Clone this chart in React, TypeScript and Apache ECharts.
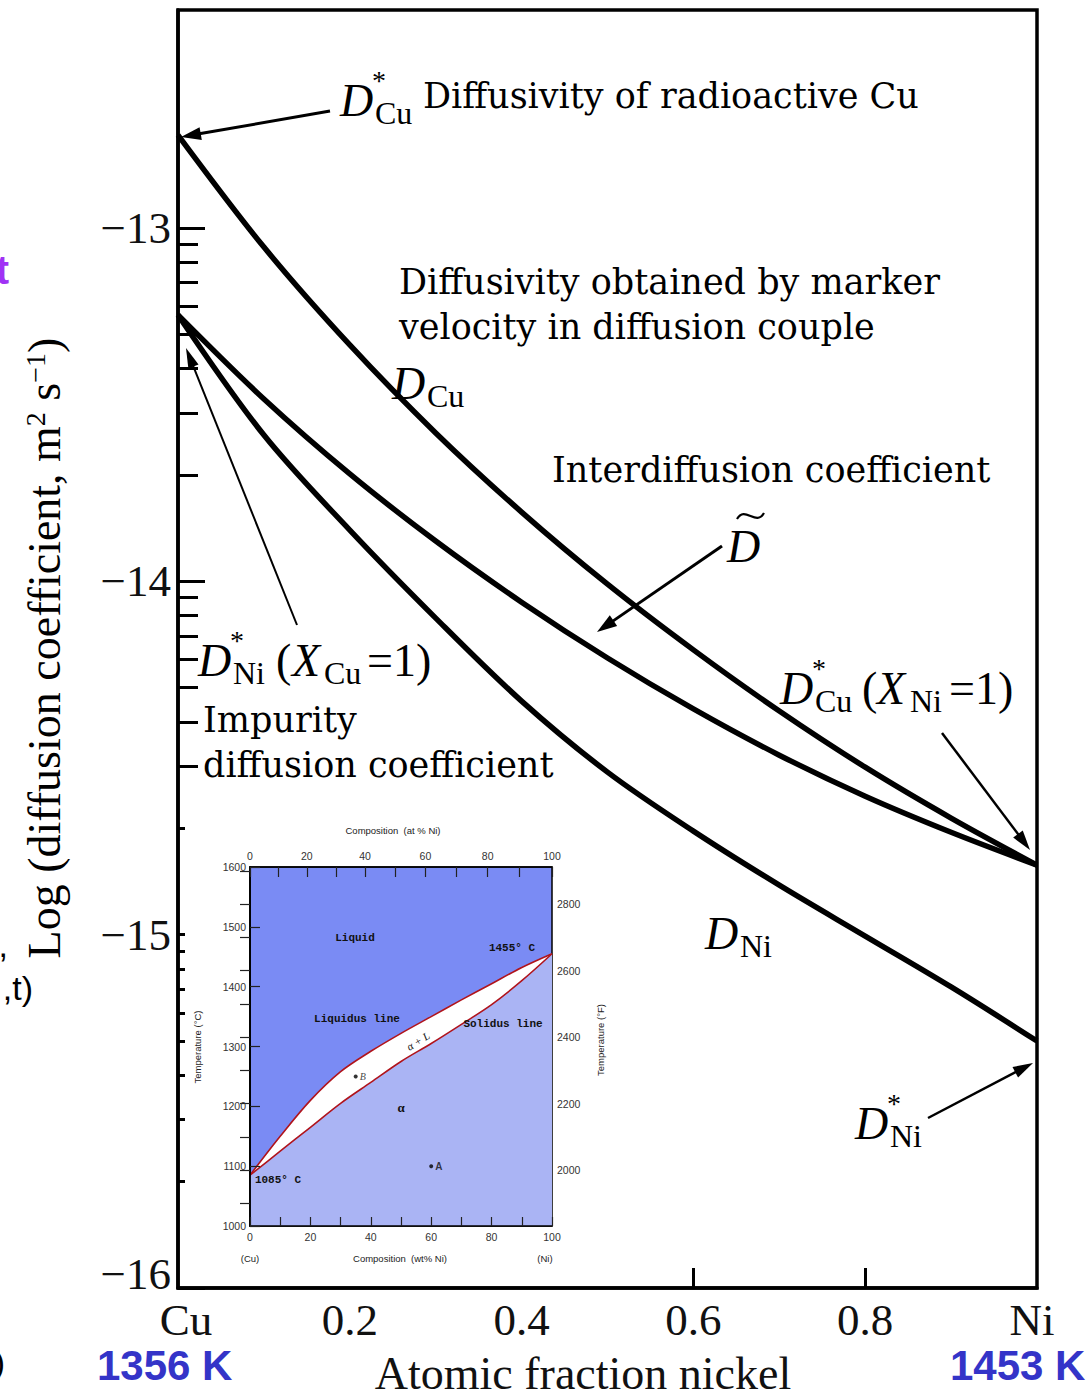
import React, { useEffect, useRef } from "react";
import * as echarts from "echarts";

// ---------- Main chart data: log10 D (m^2/s) vs atomic fraction Ni ----------
const xFraction = [0, 0.1, 0.2, 0.3, 0.4, 0.5, 0.6, 0.7, 0.8, 0.9, 1.0];
const logDCu = [-12.737, -13.054, -13.331, -13.58, -13.804, -14.008, -14.194, -14.367, -14.526, -14.67, -14.803];
const logDInter = [-13.246, -13.484, -13.696, -13.886, -14.059, -14.217, -14.361, -14.492, -14.608, -14.71, -14.803];
const logDNi = [-13.246, -13.586, -13.855, -14.104, -14.339, -14.54, -14.707, -14.86, -15.004, -15.148, -15.301];

const yMajorTicks = [-16, -15, -14, -13];
const yMinorMantissas = [2, 3, 4, 5, 6, 7, 8, 9];
const xLabelValues = [0, 0.2, 0.4, 0.6, 0.8, 1];
const xTickLabels = ["Cu", "0.2", "0.4", "0.6", "0.8", "Ni"];
const xVisibleTicks = [0.6, 0.8]; // 0.2 and 0.4 are hidden behind the inset

// ---------- Inset: Cu-Ni phase diagram ----------
const wtPctNi = [0, 10, 20, 30, 40, 50, 60, 70, 80, 90, 100];
const liquidusC = [1085, 1150, 1210, 1258, 1292, 1322, 1350, 1378, 1405, 1432, 1455];
const solidusC = [1085, 1125, 1165, 1205, 1240, 1275, 1305, 1337, 1370, 1410, 1455];
const pointB = [35, 1250];
const pointA = [60, 1100];
const insetBottomTicks = [0, 10, 20, 30, 40, 50, 60, 70, 80, 90, 100];
const insetBottomLabels = [0, 20, 40, 60, 80, 100];
const atPctLabels = ["0", "20", "40", "60", "80", "100"];
const atPctPositions = [0, 18.8, 38.1, 58.1, 78.7, 100];
const atPctMinorPositions = [9.3, 28.4, 48.0, 68.3, 89.3];
const tempCTicks = [1000, 1100, 1200, 1300, 1400, 1500, 1600];
const tempFTicks = [1900, 2000, 2100, 2200, 2300, 2400, 2500, 2600, 2700, 2800, 2900];
const tempFLabels = [2000, 2200, 2400, 2600, 2800];

const SERIF = "'Liberation Serif', 'Times New Roman', serif";
const SLAB = "'DejaVu Serif', serif";
const SANS = "'Liberation Sans', Arial, sans-serif";
const MONO = "'Liberation Mono', 'DejaVu Sans Mono', monospace";

function arrow(x1: number, y1: number, x2: number, y2: number, w: number, hl: number, hw: number) {
  const dx = x2 - x1, dy = y2 - y1;
  const L = Math.hypot(dx, dy);
  const ux = dx / L, uy = dy / L;
  const bx = x2 - ux * hl, by = y2 - uy * hl;
  const px = -uy, py = ux;
  return [
    { type: "line", z: 20, shape: { x1, y1, x2: bx + ux * 3, y2: by + uy * 3 }, style: { stroke: "#000", lineWidth: w } },
    {
      type: "polygon", z: 20,
      shape: { points: [[x2, y2], [bx + (px * hw) / 2, by + (py * hw) / 2], [bx - (px * hw) / 2, by - (py * hw) / 2]] },
      style: { fill: "#000" },
    },
  ];
}

function txt(text: string, x: number, y: number, size: number, family: string, extra: any = {}, el: any = {}) {
  return {
    type: "text", x, y, z: 20, ...el,
    style: { text, fontSize: size, fontFamily: family, fill: "#000", align: "left", verticalAlign: "middle", ...extra },
  };
}

// Italic D with optional star and subscript
function dLabel(x: number, y: number, sub: string, star: boolean) {
  const els: any[] = [txt("D", x, y, 46, SERIF, { fontStyle: "italic" })];
  if (star) els.push(txt("*", x + 32, y - 20, 28, SERIF));
  els.push(txt(sub, x + 35, y + 13, 32, SERIF));
  return els;
}

export default function App() {
  const ref = useRef<HTMLDivElement>(null);
  useEffect(() => {
    if (!ref.current) return;
    const chart = echarts.init(ref.current, null, { renderer: "svg" });

    const yMinor: number[] = [];
    [-16, -15, -14].forEach((d) => yMinorMantissas.forEach((k) => yMinor.push(d + Math.log10(k))));

    const mk = (ys: number[]) => xFraction.map((x, i) => [x, ys[i]]);
    const mainLine = (ys: number[]) => ({
      type: "line", xAxisIndex: 0, yAxisIndex: 0, data: mk(ys), smooth: 0.33,
      symbol: "none", lineStyle: { color: "#000", width: 5.5 }, z: 3, silent: true,
    });

    const graphics: any[] = [
      // inset white background
      { type: "rect", z: 5, shape: { x: 185, y: 810, width: 384, height: 464 }, style: { fill: "#fff" } },
      // y-axis title
      {
        type: "text", x: 44, y: 648, rotation: Math.PI / 2, z: 20,
        style: {
          text: "{a|Log (diffusion coefficient, m}{s|2}{a| s}{s|−1}{a|)}",
          align: "center", verticalAlign: "middle",
          rich: {
            a: { fontSize: 46, fontFamily: SERIF, fill: "#000" },
            s: { fontSize: 28, fontFamily: SERIF, fill: "#000", verticalAlign: "top" },
          },
        },
      },
      // x-axis title
      txt("Atomic fraction nickel", 583, 1373, 46, SERIF, { align: "center", fill: "#111" }),
      // annotations
      ...dLabel(340, 100, "Cu", true),
      txt("Diffusivity of radioactive Cu", 423, 96, 35, SLAB),
      ...arrow(330, 111, 181, 137, 3, 20, 13),
      txt("Diffusivity obtained by marker", 399, 282, 35, SLAB),
      txt("velocity in diffusion couple", 399, 327, 35, SLAB),
      ...dLabel(392, 383, "Cu", false),
      txt("Interdiffusion coefficient", 552, 470, 35, SLAB),
      txt("D", 727, 546, 46, SERIF, { fontStyle: "italic" }),
      {
        type: "bezierCurve", z: 20,
        shape: { x1: 737, y1: 519, x2: 764, y2: 513, cpx1: 745, cpy1: 505, cpx2: 756, cpy2: 527 },
        style: { stroke: "#000", lineWidth: 2.2, fill: "none" },
      },
      ...arrow(722, 546, 597, 632, 3, 20, 13),
      ...dLabel(198, 660, "Ni", true),
      txt("(", 276, 660, 46, SERIF),
      txt("X", 292, 660, 46, SERIF, { fontStyle: "italic" }),
      txt("Cu", 324, 673, 32, SERIF),
      txt("=1)", 367, 660, 46, SERIF),
      ...arrow(297, 625, 186, 348, 2, 20, 11),
      txt("Impurity", 203, 720, 35, SLAB),
      txt("diffusion coefficient", 203, 765, 35, SLAB),
      ...dLabel(780, 688, "Cu", true),
      txt("(", 862, 688, 46, SERIF),
      txt("X", 877, 688, 46, SERIF, { fontStyle: "italic" }),
      txt("Ni", 910, 701, 32, SERIF),
      txt("=1)", 949, 688, 46, SERIF),
      ...arrow(942, 733, 1030, 850, 2.5, 20, 12),
      ...dLabel(705, 933, "Ni", false),
      ...dLabel(855, 1123, "Ni", true),
      ...arrow(928, 1118, 1033, 1063, 2.5, 20, 12),
      // temperatures
      txt("1356 K", 97, 1365, 42, SANS, { fontWeight: "bold", fill: "#3434c8" }),
      txt("1453 K", 950, 1365, 42, SANS, { fontWeight: "bold", fill: "#3434c8" }),
      // cut-off fragments of the neighbouring slide
      txt("t", 9, 270, 40, SANS, { fontWeight: "bold", fill: "#a032f5", align: "right" }),
      txt(",", 8, 945, 34, SANS, { align: "right" }),
      txt(",t)", 33, 988, 34, SANS, { align: "right" }),
      txt(")", 5, 1362, 34, SANS, { align: "right" }),
      // inset texts
      txt("Composition  (at % Ni)", 393, 830, 9.5, SANS, { align: "center", fill: "#222" }),
      txt("Composition  (wt% Ni)", 400, 1258, 9.5, SANS, { align: "center", fill: "#222" }),
      txt("(Cu)", 250, 1258, 9.5, SANS, { align: "center", fill: "#222" }),
      txt("(Ni)", 545, 1258, 9.5, SANS, { align: "center", fill: "#222" }),
      txt("Temperature (°C)", 197, 1047, 9.5, SANS, { align: "center", fill: "#222" }, { rotation: Math.PI / 2 }),
      txt("Temperature (°F)", 600, 1040, 9.5, SANS, { align: "center", fill: "#222" }, { rotation: Math.PI / 2 }),
      txt("Liquid", 355, 938, 11, MONO, { align: "center", fontWeight: "bold", fill: "#111" }),
      txt("1455° C", 512, 948, 11, MONO, { align: "center", fontWeight: "bold", fill: "#111" }),
      txt("Liquidus line", 357, 1019, 11, MONO, { align: "center", fontWeight: "bold", fill: "#111" }),
      txt("Solidus line", 503, 1024, 11, MONO, { align: "center", fontWeight: "bold", fill: "#111" }),
      txt("α + L", 418, 1041, 11, SERIF, { align: "center", fontStyle: "italic", fill: "#111" }, { rotation: 0.55 }),
      txt("α", 401, 1107, 13, SERIF, { align: "center", fontWeight: "bold", fill: "#111" }),
      txt("1085° C", 278, 1180, 11, MONO, { align: "center", fontWeight: "bold", fill: "#111" }),
    ];

    const insetLabel = { fontSize: 10.5, fontFamily: SANS, color: "#333", formatter: (v: number) => String(v) };
    const insetLine = { show: true, lineStyle: { color: "#000", width: 1.5 } };
    const xLab = { fontSize: 45, fontFamily: SERIF, color: "#111" };

    chart.setOption({
      animation: false,
      backgroundColor: "#fff",
      grid: [
        { left: 178, top: 10, width: 859, height: 1278, show: true, borderColor: "#000", borderWidth: 3.5, backgroundColor: "transparent", z: 0 },
        { left: 250, top: 867, width: 302, height: 359, show: true, borderColor: "#000", borderWidth: 1.5, backgroundColor: "rgb(122,139,244)", z: 6 },
      ],
      xAxis: [
        {
          gridIndex: 0, type: "value", min: 0, max: 1, position: "bottom", z: 1,
          axisLine: { show: true, lineStyle: { color: "#000", width: 3.5 } },
          axisTick: { show: true, inside: true, length: 20, lineStyle: { color: "#000", width: 3 }, customValues: xVisibleTicks },
          axisLabel: {
            customValues: xLabelValues, margin: 9, ...xLab,
            formatter: (v: number) => {
              const i = xLabelValues.findIndex((t) => Math.abs(t - v) < 1e-6);
              if (i === 0) return "{cu|" + xTickLabels[i] + "}";
              if (i === xLabelValues.length - 1) return "{ni|" + xTickLabels[i] + "}";
              return xTickLabels[i] ?? "";
            },
            rich: { cu: { ...xLab, padding: [0, 0, 0, 16] }, ni: { ...xLab, padding: [0, 10, 0, 0] } },
          },
          splitLine: { show: false },
        },
        {
          gridIndex: 1, type: "value", min: 0, max: 100, position: "bottom", z: 11,
          axisLine: insetLine,
          axisTick: { show: true, inside: true, length: 9, lineStyle: { color: "#222", width: 1.2 }, customValues: insetBottomTicks },
          axisLabel: { ...insetLabel, customValues: insetBottomLabels, margin: 5 },
          splitLine: { show: false },
        },
        {
          gridIndex: 1, type: "value", min: 0, max: 100, position: "top", z: 11,
          axisLine: insetLine,
          axisTick: { show: true, inside: true, length: 10, lineStyle: { color: "#222", width: 1.2 }, customValues: [...atPctPositions, ...atPctMinorPositions] },
          axisLabel: {
            ...insetLabel, customValues: atPctPositions, margin: 6,
            formatter: (v: number) => atPctLabels[atPctPositions.findIndex((p) => Math.abs(p - v) < 0.01)] ?? "",
          },
          splitLine: { show: false },
        },
      ],
      yAxis: [
        {
          gridIndex: 0, type: "value", min: -16, max: -12.383, position: "left", z: 1,
          axisLine: { show: true, lineStyle: { color: "#000", width: 3.5 } },
          axisTick: { show: true, inside: true, length: 27, lineStyle: { color: "#000", width: 3 }, customValues: yMajorTicks },
          axisLabel: {
            customValues: yMajorTicks, margin: 7, fontSize: 45, fontFamily: SERIF, color: "#111",
            formatter: (v: number) => (v === -16 ? "{up|−16}" : "−" + Math.abs(v)),
            rich: { up: { fontSize: 45, fontFamily: SERIF, color: "#111", padding: [0, 0, 28, 0] } },
          },
          splitLine: { show: false },
        },
        {
          gridIndex: 0, type: "value", min: -16, max: -12.383, position: "left", z: 1,
          axisLine: { show: false },
          axisTick: { show: true, inside: true, length: 20, lineStyle: { color: "#000", width: 3 }, customValues: yMinor },
          axisLabel: { show: false },
          splitLine: { show: false },
        },
        {
          gridIndex: 1, type: "value", min: 1000, max: 1600, interval: 100, position: "left", z: 11,
          axisLine: insetLine,
          axisTick: { show: true, inside: true, length: 10, lineStyle: { color: "#222", width: 1.2 }, customValues: tempCTicks },
          axisLabel: { ...insetLabel, customValues: tempCTicks, margin: 4 },
          splitLine: { show: false },
        },
        {
          gridIndex: 1, type: "value", min: 1832, max: 2912, position: "right", z: 11,
          axisLine: insetLine,
          axisTick: { show: true, inside: true, length: 10, lineStyle: { color: "#222", width: 1.2 }, customValues: tempFTicks },
          axisLabel: { ...insetLabel, customValues: tempFLabels, margin: 5 },
          splitLine: { show: false },
        },
      ],
      series: [
        mainLine(logDCu),
        mainLine(logDInter),
        mainLine(logDNi),
        {
          type: "line", xAxisIndex: 1, yAxisIndex: 2, data: wtPctNi.map((w, i) => [w, liquidusC[i]]),
          smooth: 0.33, symbol: "none", z: 8, silent: true,
          lineStyle: { color: "#b0141c", width: 1.6 },
          areaStyle: { color: "#ffffff", opacity: 1, origin: "start" },
        },
        {
          type: "line", xAxisIndex: 1, yAxisIndex: 2, data: wtPctNi.map((w, i) => [w, solidusC[i]]),
          smooth: 0.33, symbol: "none", z: 9, silent: true,
          lineStyle: { color: "#b0141c", width: 1.6 },
          areaStyle: { color: "rgb(170,180,244)", opacity: 1, origin: "start" },
        },
        {
          type: "scatter", xAxisIndex: 1, yAxisIndex: 2, z: 10, silent: true,
          data: [
            { value: pointB, label: { formatter: "B", fontStyle: "italic", fontFamily: SERIF } },
            { value: pointA, label: { formatter: "A", fontWeight: "bold", fontFamily: SANS } },
          ],
          symbolSize: 4, itemStyle: { color: "#000" },
          label: { show: true, position: "right", distance: 2, fontSize: 10, color: "#111" },
        },
      ],
      graphic: { elements: graphics },
    });

    return () => chart.dispose();
  }, []);

  return <div ref={ref} style={{ position: "fixed", left: 0, top: 0, width: 1090, height: 1393, background: "#fff" }} />;
}
